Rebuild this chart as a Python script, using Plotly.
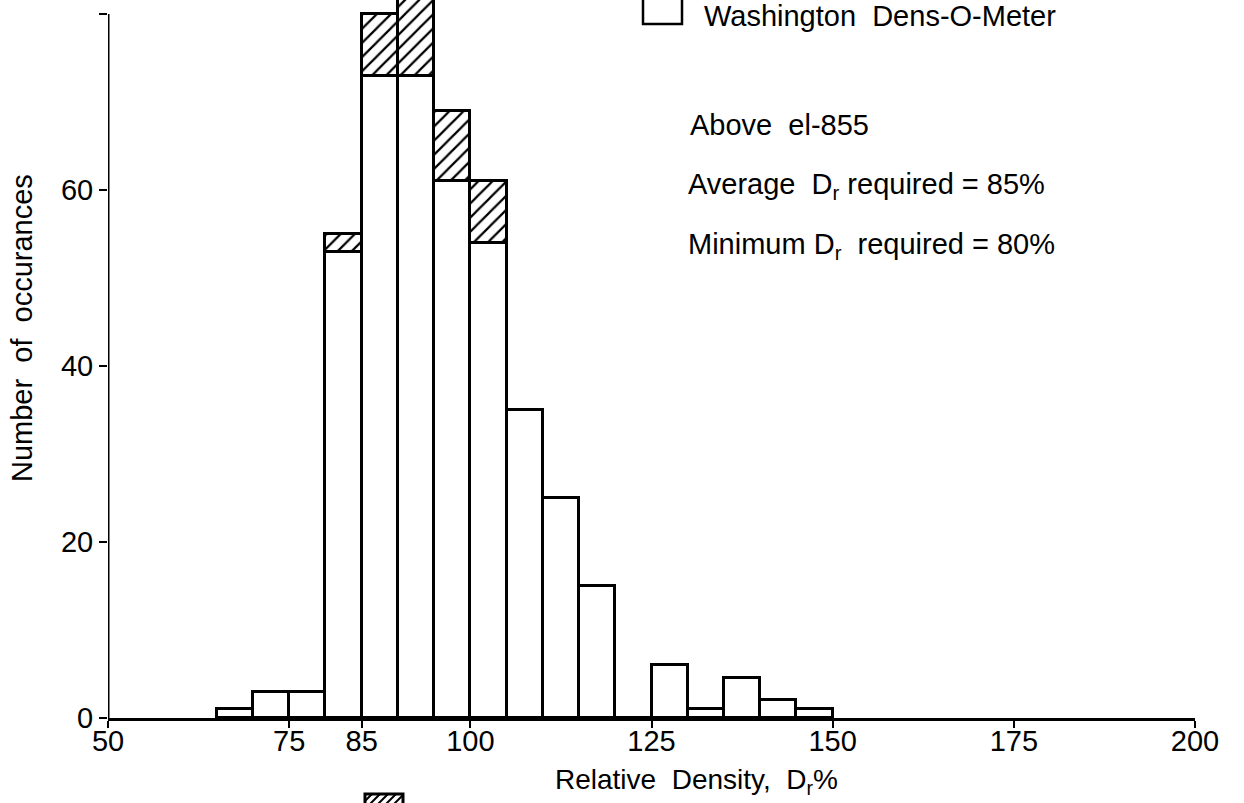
import plotly.graph_objects as go

# ---- data ----
bin_left = [65, 70, 75, 80, 85, 90, 95, 100, 105, 110, 115, 120, 125, 130, 135, 140, 145]
bin_width = 5
washington = [1, 3, 3, 53, 73, 73, 61, 54, 35, 25, 15, 0, 6, 1, 4.5, 2, 1]
hatched = [0, 0, 0, 2, 7, 11, 8, 7, 0, 0, 0, 0, 0, 0, 0, 0, 0]
x_ticks = [50, 75, 85, 100, 125, 150, 175, 200]
y_ticks = [0, 20, 40, 60, 80]

centers = [b + bin_width / 2 for b in bin_left]

FONT = "Liberation Sans"
W, H = 1244, 803
L, R, T, B = 108, 49, 0, 85
PW, PH = W - L - R, H - T - B


def px(x):
    return (x - L) / PW


def py(y):
    return (H - B - y) / PH


fig = go.Figure()
fig.add_trace(go.Bar(
    x=centers, y=washington, width=bin_width,
    marker=dict(color="white", line=dict(color="black", width=3)),
    name="Washington Dens-O-Meter", showlegend=False,
))
fig.add_trace(go.Bar(
    x=centers, y=hatched, width=bin_width,
    marker=dict(color="white", line=dict(color="black", width=3),
                pattern=dict(shape="/", fgcolor="black", bgcolor="white",
                             size=10, solidity=0.22)),
    name="other", showlegend=False,
))

shapes = []
# y axis line (ends at 80)
shapes.append(dict(type="line", xref="x", yref="y", x0=50, x1=50, y0=0, y1=80,
                   line=dict(color="black", width=3)))
# legend box (white) at top
shapes.append(dict(type="rect", xref="paper", yref="paper",
                   x0=px(643), x1=px(682), y0=py(24), y1=py(-12),
                   line=dict(color="black", width=2.5), fillcolor="white"))
# hatched legend box at bottom, cut off
shapes.append(dict(type="rect", xref="paper", yref="paper",
                   x0=px(365), x1=px(403), y0=py(830), y1=py(794),
                   line=dict(color="black", width=3), fillcolor="white"))
path = ""
for xs in range(360, 404, 8):
    xa, ya, xb, yb = xs, 806, xs + 12, 794
    if xa < 365:
        ya = ya - (365 - xa)
        xa = 365
    if xb > 403:
        yb = yb + (xb - 403)
        xb = 403
    path += f"M{px(xa)},{py(ya)} L{px(xb)},{py(yb)} "
shapes.append(dict(type="path", xref="paper", yref="paper", path=path,
                   line=dict(color="black", width=2)))

ann = []
fs = 29
ann.append(dict(text="Washington  Dens-O-Meter", xref="paper", yref="paper",
                x=px(702), y=py(16), xanchor="left", yanchor="middle",
                showarrow=False, font=dict(family=FONT, size=fs, color="black")))
ann.append(dict(text="Above  el-855", xref="paper", yref="paper",
                x=px(688), y=py(125), xanchor="left", yanchor="middle",
                showarrow=False, font=dict(family=FONT, size=fs, color="black")))
ann.append(dict(text="Average  D<sub>r</sub> required = 85%", xref="paper", yref="paper",
                x=px(686), y=py(186), xanchor="left", yanchor="middle",
                showarrow=False, font=dict(family=FONT, size=fs, color="black")))
ann.append(dict(text="Minimum D<sub>r</sub>  required = 80%", xref="paper", yref="paper",
                x=px(686), y=py(246), xanchor="left", yanchor="middle",
                showarrow=False, font=dict(family=FONT, size=fs, color="black")))
ann.append(dict(text="Relative  Density,  D<sub>r</sub>%", xref="paper", yref="paper",
                x=px(696), y=py(781), xanchor="center", yanchor="middle",
                showarrow=False, font=dict(family=FONT, size=28, color="black")))
ann.append(dict(text="Number  of  occurances", xref="paper", yref="paper",
                x=px(22), y=py(328), xanchor="center", yanchor="middle", textangle=-90,
                showarrow=False, font=dict(family=FONT, size=fs, color="black")))

fig.update_layout(
    template="none",
    width=W, height=H,
    margin=dict(l=L, r=R, t=T, b=B, pad=0),
    paper_bgcolor="white", plot_bgcolor="white",
    barmode="stack", bargap=0,
    showlegend=False,
    shapes=shapes, annotations=ann,
    xaxis=dict(range=[50, 200], tickvals=x_ticks, ticktext=[str(v) for v in x_ticks],
               ticks="outside", ticklen=7, tickwidth=2, tickcolor="black",
               ticklabelstandoff=-12,
               showline=True, linecolor="black", linewidth=3,
               showgrid=False, zeroline=False, automargin=False,
               tickfont=dict(family=FONT, size=29, color="black")),
    yaxis=dict(range=[0, 81.6], tickvals=y_ticks, ticktext=[str(v) for v in y_ticks],
               ticks="outside", ticklen=8, tickwidth=2, tickcolor="black",
               showline=False, showgrid=False, zeroline=False, automargin=False,
               tickfont=dict(family=FONT, size=29, color="black")),
)

fig.write_html("out.html")
